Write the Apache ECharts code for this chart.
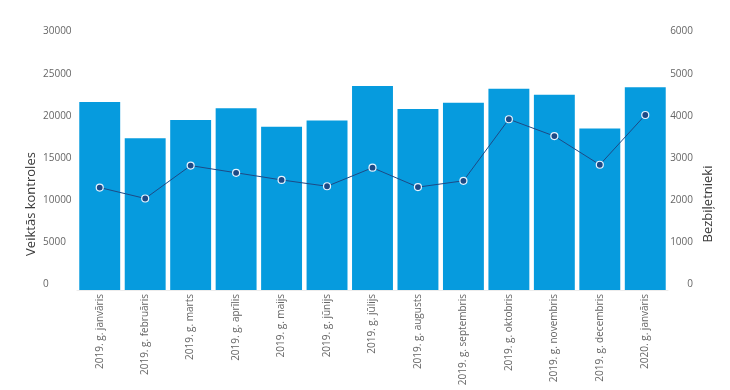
<!DOCTYPE html>
<html>
<head>
<meta charset="utf-8">
<script src="https://cdn.jsdelivr.net/npm/echarts@6/dist/echarts.min.js"></script>
<style>
html,body{margin:0;padding:0;background:#fff;}
#c{width:730px;height:390px;}
</style>
</head>
<body>
<div id="c"></div>
<script>
const categories = ["2019. g. janvāris","2019. g. februāris","2019. g. marts","2019. g. aprīlis","2019. g. maijs","2019. g. jūnijs","2019. g. jūlijs","2019. g. augusts","2019. g. septembris","2019. g. oktobris","2019. g. novembris","2019. g. decembris","2020. g. janvāris"];
const kontroles = [22300, 18000, 20150, 21550, 19350, 20100, 24200, 21450, 22200, 23850, 23150, 19150, 24050];
const bezbiletnieki = [2430, 2170, 2950, 2780, 2610, 2460, 2900, 2440, 2590, 4050, 3650, 2970, 4150];
const leftTicks = [0, 30000, 5000];
const rightTicks = [0, 6000, 1000];
const leftTitle = "Veiktās kontroles";
const rightTitle = "Bezbiļetnieki";

const FONT = "'Open Sans', 'DejaVu Sans', sans-serif";
const plain = v => String(v);
const chart = echarts.init(document.getElementById('c'), null, {renderer: 'canvas'});
chart.setOption({
  animation: false,
  backgroundColor: '#ffffff',
  textStyle: {fontFamily: FONT},
  grid: {left: 77, right: 62, top: 37, bottom: 100, containLabel: false},
  xAxis: {
    type: 'category',
    data: categories,
    axisLine: {show: true, lineStyle: {color: '#ececec', width: 1}},
    axisTick: {show: false},
    axisLabel: {rotate: 90, color: '#666', fontSize: 10, fontFamily: FONT, margin: 4, interval: 0}
  },
  yAxis: [{
    type: 'value',
    min: leftTicks[0], max: leftTicks[1], interval: leftTicks[2],
    splitLine: {show: false},
    axisLine: {show: false}, axisTick: {show: false},
    axisLabel: {formatter: plain, color: '#666', fontSize: 10, fontFamily: FONT, align: 'left', margin: 34, verticalAlign: 'bottom', lineHeight: 11}
  }, {
    type: 'value',
    min: rightTicks[0], max: rightTicks[1], interval: rightTicks[2],
    position: 'right',
    splitLine: {show: false},
    axisLine: {show: false}, axisTick: {show: false},
    axisLabel: {formatter: plain, color: '#666', fontSize: 10, fontFamily: FONT, align: 'right', margin: 25, verticalAlign: 'bottom', lineHeight: 11}
  }],
  graphic: [{
    type: 'text', x: 31, y: 204, rotation: Math.PI / 2,
    style: {text: leftTitle, fill: '#3a3a3a', font: "13px " + FONT, align: 'center', verticalAlign: 'middle'}
  }, {
    type: 'text', x: 708, y: 204, rotation: Math.PI / 2,
    style: {text: rightTitle, fill: '#3a3a3a', font: "13px " + FONT, align: 'center', verticalAlign: 'middle'}
  }],
  series: [{
    type: 'bar',
    name: leftTitle,
    data: kontroles,
    yAxisIndex: 0,
    barCategoryGap: '10%',
    itemStyle: {color: '#069bde'}
  }, {
    type: 'line',
    name: rightTitle,
    data: bezbiletnieki,
    yAxisIndex: 1,
    symbol: 'circle',
    symbolSize: 7,
    lineStyle: {color: '#1d4a86', width: 1},
    itemStyle: {color: '#1d4a86', borderColor: '#e8f4ff', borderWidth: 1.2}
  }]
});
</script>
</body>
</html>
